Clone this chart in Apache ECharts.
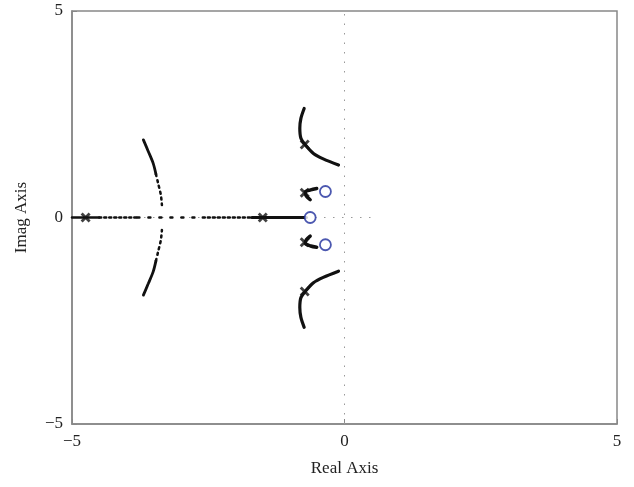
<!DOCTYPE html>
<html>
<head>
<meta charset="utf-8">
<script src="https://cdn.jsdelivr.net/npm/echarts@6/dist/echarts.min.js"></script>
<style>
  html, body { margin: 0; padding: 0; background: #fff; }
  #main { width: 634px; height: 487px; }
</style>
</head>
<body>
<div id="main"></div>
<script>
// poles (x) and zeros (o)
var poles = [[-4.75, 0], [-1.5, 0], [-0.73, 1.77], [-0.73, -1.79], [-0.73, 0.6], [-0.73, -0.6]];
var zeros = [[-0.63, 0], [-0.35, 0.63], [-0.35, -0.66]];

// locus branches
var upperOuter = [[-0.74, 2.64], [-0.80, 2.4], [-0.82, 2.16], [-0.80, 1.92], [-0.72, 1.76], [-0.57, 1.55], [-0.39, 1.42], [-0.11, 1.27]];
var lowerOuter = [[-0.74, -2.66], [-0.80, -2.42], [-0.82, -2.18], [-0.80, -1.94], [-0.72, -1.79], [-0.57, -1.58], [-0.39, -1.45], [-0.11, -1.3]];
var upperSmall = [[-0.51, 0.70], [-0.62, 0.67], [-0.72, 0.62], [-0.70, 0.52], [-0.63, 0.43]];
var lowerSmall = [[-0.51, -0.72], [-0.62, -0.69], [-0.72, -0.63], [-0.70, -0.54], [-0.63, -0.45]];
var leftUpperSolid = [[-3.69, 1.88], [-3.60, 1.6], [-3.51, 1.31], [-3.46, 1.05]];
var leftUpperDots = [[-3.46, 1.05], [-3.42, 0.83], [-3.37, 0.55], [-3.35, 0.30]];
var leftLowerSolid = [[-3.69, -1.88], [-3.60, -1.6], [-3.51, -1.31], [-3.46, -1.05]];
var leftLowerDots = [[-3.46, -1.05], [-3.42, -0.83], [-3.37, -0.55], [-3.35, -0.30]];
var realSolidA = [[-5, 0], [-4.5, 0]];
var realDenseA = [[-4.5, 0], [-3.8, 0]];
var realSparse = [[-3.8, 0], [-2.6, 0]];
var realDenseB = [[-2.6, 0], [-1.7, 0]];
var realSolidB = [[-1.7, 0], [-0.70, 0]];

// dotted reference axes
var vRef = [[0, -5], [0, 5]];
var hRef = [[-5, 0], [0.5, 0]];

var myChart = echarts.init(document.getElementById('main'));
var font = 'Liberation Serif';

function fmt(v) {
  return v < 0 ? '\u2212' + Math.abs(v) : String(v);
}

function branch(data, width, type, smooth) {
  return {
    type: 'line',
    data: data,
    showSymbol: false,
    symbol: 'none',
    smooth: smooth ? 0.3 : false,
    silent: true,
    z: 3,
    lineStyle: { color: '#111', width: width, type: type || 'solid', cap: 'round' }
  };
}

var crossPath = 'path://M0,2L2,0L5,3L8,0L10,2L7,5L10,8L8,10L5,7L2,10L0,8L3,5Z';

var option = {
  animation: false,
  grid: {
    left: 72, right: 17, top: 11, bottom: 63,
    show: true, borderColor: '#888', borderWidth: 1.5
  },
  xAxis: {
    type: 'value', min: -5, max: 5, interval: 5,
    name: 'Real Axis', nameLocation: 'middle', nameGap: 36,
    nameTextStyle: { fontFamily: font, fontSize: 17, color: '#222' },
    axisLine: { show: true, onZero: false, lineStyle: { color: '#888', width: 1.5 } },
    axisTick: { show: true, inside: true, length: 5, lineStyle: { color: '#888' } },
    axisLabel: { fontFamily: font, fontSize: 17, color: '#222', margin: 9, formatter: fmt },
    splitLine: { show: false }
  },
  yAxis: {
    type: 'value', min: -5, max: 5, interval: 5,
    name: 'Imag Axis', nameLocation: 'middle', nameGap: 42,
    nameTextStyle: { fontFamily: font, fontSize: 17, color: '#222' },
    axisLine: { show: true, onZero: false, lineStyle: { color: '#888', width: 1.5 } },
    axisTick: { show: true, inside: true, length: 5, lineStyle: { color: '#888' } },
    axisLabel: { fontFamily: font, fontSize: 17, color: '#222', margin: 9, formatter: fmt },
    splitLine: { show: false }
  },
  series: [
    { type: 'line', data: vRef, symbol: 'none', silent: true, z: 1,
      lineStyle: { color: '#999', width: 1, type: [1.5, 8] } },
    { type: 'line', data: hRef, symbol: 'none', silent: true, z: 1,
      lineStyle: { color: '#999', width: 1, type: [1.5, 7.5] } },
    branch(upperOuter, 3.2, 'solid', true),
    branch(lowerOuter, 3.2, 'solid', true),
    branch(upperSmall, 3.5, 'solid', true),
    branch(lowerSmall, 3.5, 'solid', true),
    branch(leftUpperSolid, 2.8, 'solid', true),
    branch(leftLowerSolid, 2.8, 'solid', true),
    branch(leftUpperDots, 2.5, [2, 4], true),
    branch(leftLowerDots, 2.5, [2, 4], true),
    branch(realSolidA, 2.5, 'solid', false),
    branch(realDenseA, 2.5, [2, 3], false),
    branch(realSparse, 2.5, [2, 9], false),
    branch(realDenseB, 2.5, [2, 3], false),
    branch(realSolidB, 3.2, 'solid', false),
    {
      type: 'scatter', data: poles, symbol: crossPath, symbolSize: 10, z: 5, silent: true,
      itemStyle: { color: '#111' }
    },
    {
      type: 'scatter', data: zeros, symbol: 'circle', symbolSize: 11, z: 5, silent: true,
      itemStyle: { color: '#fff', borderColor: '#1f2e9c', borderWidth: 1.8 }
    }
  ]
};

myChart.setOption(option);
window.onresize = function () { myChart.resize(); };
</script>
</body>
</html>
